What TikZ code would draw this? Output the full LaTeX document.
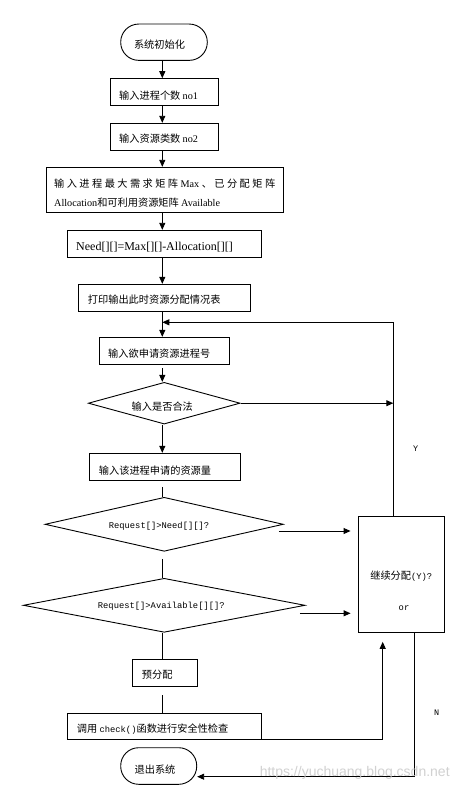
\documentclass[tikz,border=0pt]{standalone}
\usepackage{fontspec}
\setmainfont{Liberation Serif}
\newfontfamily\cjk{Noto Sans CJK SC}
\newfontfamily\monof{Liberation Mono}
\newfontfamily\wmfont{Liberation Sans}
\usetikzlibrary{shapes.geometric,arrows.meta}
\newcommand\latn[1]{{\rmfamily #1}}
\newcommand\mn[1]{{\monof\fontsize{8.8}{10}\selectfont #1}}
\begin{document}
\begin{tikzpicture}[x=1pt,y=-1pt,
  box/.style={draw, line width=0.9pt, inner sep=0pt},
  term/.style={draw, line width=0.9pt, inner sep=0pt, rounded corners=18pt},
  dia/.style={draw, line width=0.9pt, diamond, inner sep=0pt},
  txt/.style={inner sep=0pt, font=\cjk\fontsize{10.2}{12}\selectfont},
  lbl/.style={inner sep=0pt, font=\monof\fontsize{8.5}{10}\selectfont},
  ln/.style={draw, line width=0.9pt},
  arr/.style={draw, line width=0.9pt, -{Triangle[length=7pt,width=6pt]}}]
\useasboundingbox[fill=white] (0,0) rectangle (472,791);

% shapes
\node[term, minimum width=86.6pt, minimum height=36.3pt] (start) at (164,42.2) {};
\node[box, minimum width=108pt, minimum height=26.6pt] (b1) at (164.3,92) {};
\node[box, minimum width=108pt, minimum height=27pt] (b2) at (164.3,136.8) {};
\node[box, minimum width=237pt, minimum height=45pt] (b3) at (164.8,189.8) {};
\node[box, minimum width=194pt, minimum height=27pt] (b4) at (164.3,243.8) {};
\node[box, minimum width=172pt, minimum height=27.4pt] (b5) at (164.3,298) {};
\node[box, minimum width=130pt, minimum height=26.7pt] (b6) at (164.3,350.7) {};
\node[dia, minimum width=151.7pt, minimum height=41.7pt] (d1) at (164.2,403.2) {};
\node[box, minimum width=151pt, minimum height=27pt] (b7) at (164.8,466.8) {};
\node[dia, minimum width=238.3pt, minimum height=54pt] (d2) at (164.2,524.3) {};
\node[dia, minimum width=281.7pt, minimum height=54pt] (d3) at (164.2,605.3) {};
\node[box, minimum width=86pt, minimum height=116.3pt] (b8) at (401.3,574.2) {};
\node[box, minimum width=65pt, minimum height=27pt] (b9) at (164.8,672.8) {};
\node[box, minimum width=194pt, minimum height=26pt] (b10) at (164.3,726.3) {};
\node[term, minimum width=76pt, minimum height=36.6pt] (end) at (158.7,766) {};

% texts
\node[txt] (t0) at (159.5,45) {系统初始化};
\node[txt, anchor=west] (t1) at (119,96) {输入进程个数 \latn{no1}};
\node[txt, anchor=west] (t2) at (119,139) {输入资源类数 \latn{no2}};
\node[txt, anchor=west] (t3a) at (54,184) {\makebox[221pt][s]{输\hfill 入\hfill 进\hfill 程\hfill 最\hfill 大\hfill 需\hfill 求\hfill 矩\hfill 阵\hfill \latn{Max}\hfill 、\hfill 已\hfill 分\hfill 配\hfill 矩\hfill 阵}};
\node[txt, anchor=west] (t3b) at (54,202.3) {\latn{Allocation}和可利用资源矩阵 \latn{Available}};
\node[inner sep=0pt, anchor=west, font=\rmfamily\fontsize{12}{14}\selectfont] (t4) at (76,247) {Need[][]=Max[][]-Allocation[][]};
\node[txt, anchor=west] (t5) at (87.7,300) {打印输出此时资源分配情况表};
\node[txt, anchor=west] (t6) at (108,354) {输入欲申请资源进程号};
\node[txt] (t7) at (162.3,407) {输入是否合法};
\node[txt, anchor=west] (t8) at (98.7,470.7) {输入该进程申请的资源量};
\node[inner sep=0pt, font=\monof\fontsize{8.8}{10}\selectfont] (t9) at (159,526.7) {Request[]>Need[][]?};
\node[inner sep=0pt, font=\monof\fontsize{8.8}{10}\selectfont] (t10) at (161.3,606.7) {Request[]>Available[][]?};
\node[txt] (t11) at (401.3,576) {继续分配\mn{(Y)?}};
\node[inner sep=0pt, font=\monof\fontsize{8.8}{10}\selectfont] (t12) at (404,607.7) {or};
\node[txt, anchor=west] (t13) at (141.7,675) {预分配};
\node[txt, anchor=west] (t14) at (76.7,729.3) {调用 \mn{check()}函数进行安全性检查};
\node[txt] (t15) at (155,769.3) {退出系统};
\node[lbl] (ylab) at (415.7,448.3) {Y};
\node[lbl] (nlab) at (436.7,712.7) {N};

% helper coordinates
\coordinate (sp) at (162.3,0);
\coordinate (rc) at (393.3,0);
\coordinate (ru) at (382.7,0);
\coordinate (rd) at (414,0);
\coordinate (loopy) at (0,322.3);
\coordinate (ny) at (0,776.7);
\coordinate (d2o) at ([xshift=-5pt,yshift=-6.7pt]d2.east);
\coordinate (d3o) at ([xshift=-5.7pt,yshift=-8pt]d3.east);
\coordinate (b8l) at ([xshift=-7.3pt]b8.west);

% connectors
\draw[arr] (start.south -| sp) -- (b1.north -| sp);
\draw[arr] (b1.south -| sp) -- (b2.north -| sp);
\draw[arr] (b2.south -| sp) -- (b3.north -| sp);
\draw[arr] (b3.south -| sp) -- (b4.north -| sp);
\draw[arr] (b4.south -| sp) -- (b5.north -| sp);
\draw[arr] (b5.south -| sp) -- (b6.north -| sp);
\draw[arr] (b8.north -| rc) -- (loopy -| rc) -- (loopy -| sp);
\draw[arr, shorten <=3.7pt] (b6.south -| sp) -- (d1.north -| sp);
\draw[arr] (d1.east) -- (d1.east -| rc);
\draw[arr] (d1.south -| sp) -- (b7.north -| sp);
\draw[ln, shorten <=6pt] (b7.south -| sp) -- (d2.north -| sp);
\draw[arr] (d2o) -- (d2o -| b8l);
\draw[ln, shorten <=7pt] (d2.south -| sp) -- (d3.north -| sp);
\draw[arr] (d3o) -- (d3o -| b8l);
\draw[ln] (d3.south -| sp) -- (b9.north -| sp);
\draw[ln, shorten <=8.7pt] (b9.south -| sp) -- (b10.north -| sp);
\draw[arr, shorten >=9pt] (b10.south east) -- (b10.south east -| ru) -- (b8.south -| ru);
\draw[arr] (b8.south -| rd) -- (ny -| rd) -- (ny -| end.east);

% watermark
\node[inner sep=0pt, font=\wmfont\fontsize{14}{16}\selectfont, text=gray!40, opacity=0.9] (wm) at (354.7,773) {https://yuchuang.blog.csdn.net};
\end{tikzpicture}
\end{document}
